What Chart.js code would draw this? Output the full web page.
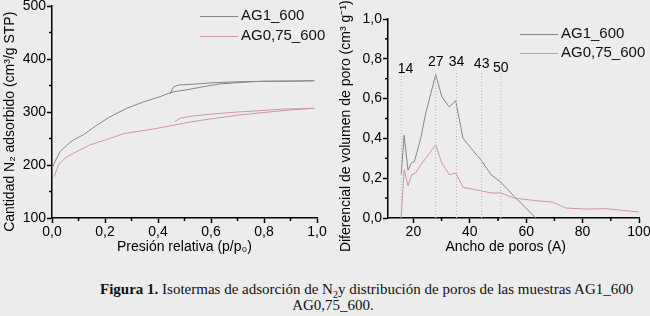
<!DOCTYPE html>
<html>
<head>
<meta charset="utf-8">
<script src="https://cdn.jsdelivr.net/npm/chart.js@4/dist/chart.umd.min.js"></script>
<style>
    body { margin: 0; width: 650px; height: 316px; overflow: hidden; position: relative;
           background: #ececec; font-family: "Liberation Sans", Arial, sans-serif; }
    .caja { position: absolute; top: 0; width: 330px; height: 260px; }
    #caja-izq { left: 0; }
    #caja-der { left: 320px; }
    .leyenda { position: absolute; font-size: 15px; color: #111; line-height: 20px; }
    .leyenda div { white-space: nowrap; }
    .leyenda .ln { display: inline-block; width: 38px; border-top: 1px solid; vertical-align: middle; margin-right: 3px; }
    .pie { position: absolute; font-family: "Liberation Serif", "Times New Roman", serif;
           font-size: 15px; color: #111; white-space: nowrap; line-height: 16px; }
</style>
</head>
<body>

<div class="caja" id="caja-izq"><canvas id="chart-isotermas" width="330" height="260"></canvas></div>
<div class="caja" id="caja-der"><canvas id="chart-poros" width="330" height="260"></canvas></div>

<div class="leyenda" style="left:200px; top:5px;">
    <div><span class="ln" style="border-color:#858585"></span>AG1_600</div>
    <div><span class="ln" style="border-color:#cf95a0"></span>AG0,75_600</div>
</div>
<div class="leyenda" style="left:520px; top:23px; line-height:19px;">
    <div><span class="ln" style="border-color:#858585"></span>AG1_600</div>
    <div><span class="ln" style="border-color:#cf95a0"></span>AG0,75_600</div>
</div>

<div class="pie" style="left:100px; top:281px;"><b>Figura 1.</b> Isotermas de adsorción de N<sub style="font-size:10px">2</sub>y distribución de poros de las muestras AG1_600</div>
<div class="pie" style="left:0; width:666px; text-align:center; top:297px;">AG0,75_600.</div>

<script>
/* ============================================================
   DATOS — ISOTERMAS (izquierda)
============================================================ */
const ISO_AG1_ADS_X = [0.004, 0.008, 0.03, 0.055, 0.08, 0.118, 0.169, 0.219, 0.282, 0.345, 0.408, 0.439, 0.458, 0.521, 0.585, 0.635, 0.69, 0.75, 0.8, 0.9, 0.99];
const ISO_AG1_ADS_Y = [196, 203, 225, 237, 247, 257, 275, 291, 307, 319, 329, 335, 338, 343, 349, 353, 355, 357, 358, 358, 359];
const ISO_AG1_DES_X = [0.99, 0.9, 0.81, 0.7, 0.6, 0.52, 0.477, 0.458, 0.445];
const ISO_AG1_DES_Y = [359, 358.5, 358, 357, 355, 352, 351, 347, 334];

const ISO_AG075_ADS_X = [0.008, 0.024, 0.049, 0.08, 0.143, 0.206, 0.269, 0.332, 0.395, 0.458, 0.521, 0.56, 0.6, 0.7, 0.8, 0.9, 0.99];
const ISO_AG075_ADS_Y = [178, 200, 213, 222, 238, 248, 259, 264, 269, 275, 281, 284, 287, 294, 299, 304, 307];
const ISO_AG075_DES_X = [0.99, 0.87, 0.8, 0.7, 0.6, 0.521, 0.483, 0.464];
const ISO_AG075_DES_Y = [307, 305.5, 303, 300, 296, 292, 288, 282];

const ISO_X_TICKS = [0, 0.2, 0.4, 0.6, 0.8, 1.0];
const ISO_X_MINOR = [0.1, 0.3, 0.5, 0.7, 0.9];
const ISO_Y_TICKS = [100, 200, 300, 400, 500];
const ISO_Y_MINOR = [150, 250, 350, 450];

/* ============================================================
   DATOS — DISTRIBUCIÓN DE POROS (derecha)
============================================================ */
const PSD_AG1_X = [15.7, 16.7, 18.1, 19.2, 20.4, 22.6, 24.4, 27.9, 30.1, 32.7, 35.0, 37.6, 40.9, 43.9, 47.5, 51.0, 55.7, 63.4];
const PSD_AG1_Y = [0.22, 0.415, 0.24, 0.275, 0.285, 0.40, 0.528, 0.72, 0.61, 0.558, 0.59, 0.40, 0.343, 0.293, 0.218, 0.18, 0.109, 0.0];

const PSD_AG075_X = [15.7, 16.7, 18.1, 19.4, 20.8, 22.6, 24.4, 27.9, 30.1, 32.7, 35.0, 37.6, 43.9, 47.5, 51.0, 55.7, 63.4, 69.3, 74.1, 81.2, 88.3, 99.9];
const PSD_AG075_Y = [0.005, 0.243, 0.162, 0.218, 0.226, 0.268, 0.30, 0.368, 0.276, 0.218, 0.226, 0.154, 0.137, 0.126, 0.126, 0.10, 0.087, 0.08, 0.05, 0.045, 0.047, 0.03];

const REF_X = [15.7, 27.9, 35.3, 44.2, 51.0];
const REF_LABELS = ["14", "27", "34", "43", "50"];
const REF_LABEL_X = [17.2, 27.9, 35.3, 44.2, 51.0];
const REF_LABEL_Y = [0.75, 0.785, 0.785, 0.775, 0.755];
const REF_TOP = 0.74;

const PSD_X_TICKS = [20, 40, 60, 80, 100];
const PSD_X_MINOR = [30, 50, 70, 90];
const PSD_Y_TICKS = [0, 0.2, 0.4, 0.6, 0.8, 1.0];
const PSD_Y_MINOR = [0.1, 0.3, 0.5, 0.7, 0.9];

/* ============================================================
   ESTILO
============================================================ */
const FUENTE = "'Liberation Sans', Arial, sans-serif";
const COLOR_AG1 = "#858585";
const COLOR_AG075 = "#cf95a0";

const pares = (xs, ys) => xs.map((x, i) => ({ x, y: ys[i] }));
const coma = v => v.toFixed(1).replace(".", ",");

function serie(xs, ys, color) {
    return {
        data: pares(xs, ys),
        showLine: true,
        borderColor: color,
        borderWidth: 1,
        pointRadius: 0,
        tension: 0
    };
}

function eje(pos, min, max, ticks, fmt, titulo, padTitulo, tam) {
    return {
        type: "linear",
        position: pos,
        min, max,
        afterBuildTicks: s => { s.ticks = ticks.map(v => ({ value: v })); },
        afterFit: s => {
            if (pos === "left") s.width = tam; else s.height = tam;
            s.paddingTop = s.paddingBottom = s.paddingLeft = s.paddingRight = 0;
        },
        grid: { display: true, drawOnChartArea: false, drawTicks: true, tickLength: 5, tickWidth: 1.5, tickColor: "#000" },
        border: { display: true, color: "#000", width: 1.5 },
        ticks: { color: "#000", font: { size: 14, family: FUENTE }, padding: 1, autoSkip: false, maxRotation: 0, callback: v => fmt(v) },
        title: { display: true, text: titulo, color: "#000", font: { size: 14, family: FUENTE }, padding: padTitulo }
    };
}

/* marcas menores (Chart.js no las trae) */
const marcasMenores = {
    id: "marcasMenores",
    afterDraw(chart, args, opts) {
        const { ctx } = chart;
        const sx = chart.scales.x, sy = chart.scales.y;
        ctx.save();
        ctx.strokeStyle = "#000";
        ctx.lineWidth = 1.5;
        for (const v of opts.x || []) {
            const px = sx.getPixelForValue(v);
            ctx.beginPath(); ctx.moveTo(px, sx.top); ctx.lineTo(px, sx.top + 3); ctx.stroke();
        }
        for (const v of opts.y || []) {
            const py = sy.getPixelForValue(v);
            ctx.beginPath(); ctx.moveTo(sy.right, py); ctx.lineTo(sy.right - 3, py); ctx.stroke();
        }
        ctx.restore();
    }
};

/* etiquetas de las líneas de referencia */
const etiquetasPoro = {
    id: "etiquetasPoro",
    afterDatasetsDraw(chart, args, opts) {
        if (!opts.labels) return;
        const { ctx } = chart;
        ctx.save();
        ctx.fillStyle = "#000";
        ctx.font = "14px " + FUENTE;
        ctx.textAlign = "center";
        ctx.textBaseline = "middle";
        opts.labels.forEach((t, i) => {
            ctx.fillText(t, chart.scales.x.getPixelForValue(opts.xs[i]), chart.scales.y.getPixelForValue(opts.ys[i]));
        });
        ctx.restore();
    }
};

const baseOpts = {
    responsive: false,
    animation: false,
    events: [],
    plugins: { legend: { display: false }, tooltip: { enabled: false } }
};

/* ============================================================
   GRÁFICO IZQUIERDO — ISOTERMAS
============================================================ */
new Chart(document.getElementById("chart-isotermas"), {
    type: "scatter",
    data: {
        datasets: [
            serie(ISO_AG1_ADS_X, ISO_AG1_ADS_Y, COLOR_AG1),
            serie(ISO_AG1_DES_X, ISO_AG1_DES_Y, COLOR_AG1),
            serie(ISO_AG075_ADS_X, ISO_AG075_ADS_Y, COLOR_AG075),
            serie(ISO_AG075_DES_X, ISO_AG075_DES_Y, COLOR_AG075)
        ]
    },
    options: {
        ...baseOpts,
        layout: { padding: { top: 6, right: 13, left: 0, bottom: 0 } },
        scales: {
            x: eje("bottom", 0, 1, ISO_X_TICKS, coma, "Presión relativa (p/p₀)", { top: 0, bottom: 4 }, 42),
            y: eje("left", 100, 500, ISO_Y_TICKS, v => String(v), "Cantidad N₂ adsorbido (cm³/g STP)     ", { top: 2, bottom: 0 }, 52)
        },
        plugins: { ...baseOpts.plugins, marcasMenores: { x: ISO_X_MINOR, y: ISO_Y_MINOR } }
    },
    plugins: [marcasMenores]
});

/* ============================================================
   GRÁFICO DERECHO — DISTRIBUCIÓN DE POROS
============================================================ */
const lineasRef = REF_X.map(x => ({
    data: [{ x, y: 0 }, { x, y: REF_TOP }],
    showLine: true,
    borderColor: "#b4b4b4",
    borderWidth: 1,
    borderDash: [1, 2],
    pointRadius: 0
}));

new Chart(document.getElementById("chart-poros"), {
    type: "scatter",
    data: {
        datasets: [
            ...lineasRef,
            serie(PSD_AG1_X, PSD_AG1_Y, COLOR_AG1),
            serie(PSD_AG075_X, PSD_AG075_Y, COLOR_AG075)
        ]
    },
    options: {
        ...baseOpts,
        layout: { padding: { top: 19, right: 11, left: 0, bottom: 0 } },
        scales: {
            x: eje("bottom", 11, 100, PSD_X_TICKS, v => String(v), "Ancho de poros (A)    ", { top: 0, bottom: 4 }, 42),
            y: eje("left", 0, 1, PSD_Y_TICKS, coma, "Diferencial de volumen de poro (cm³ g⁻¹)    ", { top: 18, bottom: 0 }, 68)
        },
        plugins: {
            ...baseOpts.plugins,
            marcasMenores: { x: PSD_X_MINOR, y: PSD_Y_MINOR },
            etiquetasPoro: { labels: REF_LABELS, xs: REF_LABEL_X, ys: REF_LABEL_Y }
        }
    },
    plugins: [marcasMenores, etiquetasPoro]
});
</script>
</body>
</html>
